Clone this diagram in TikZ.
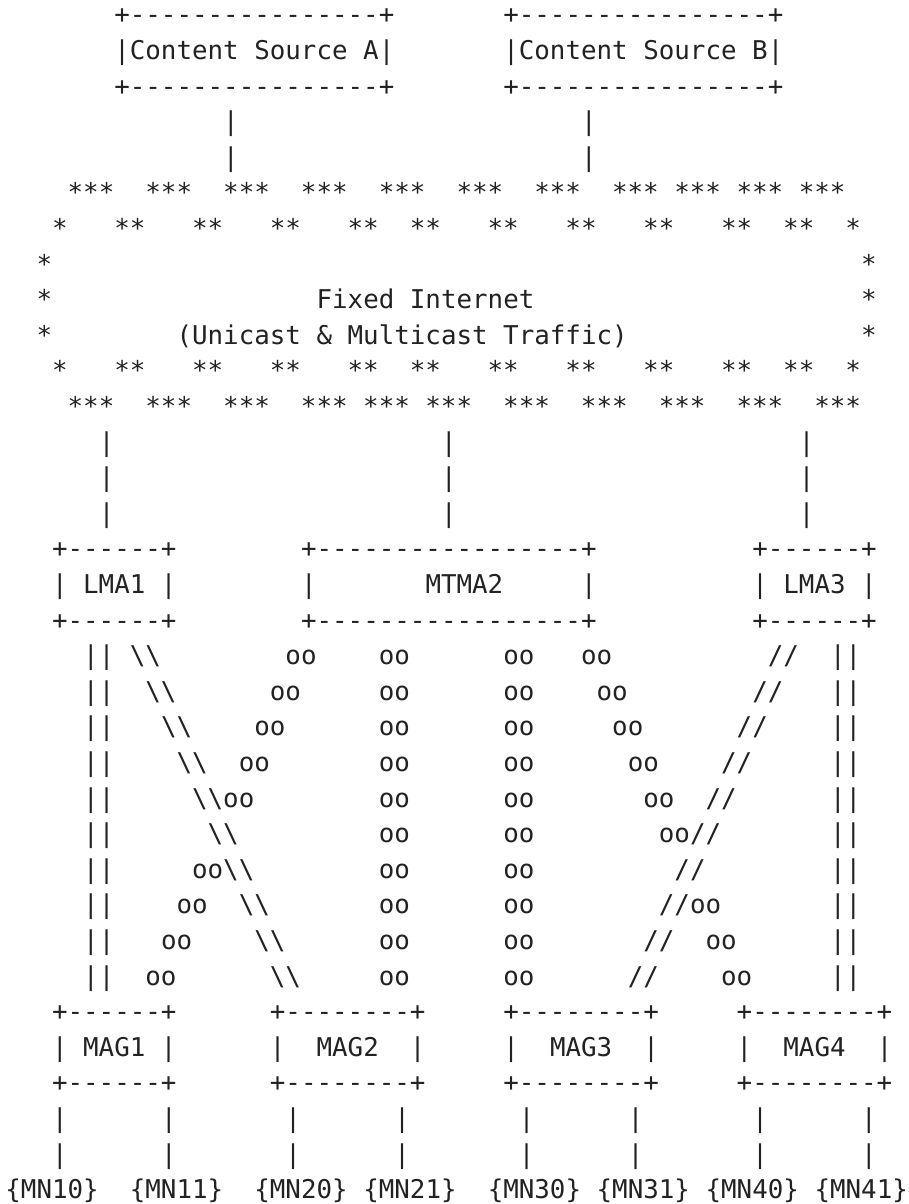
\documentclass[tikz,border=0pt]{standalone}
\usepackage{fontspec}
\newfontfamily\artfont{DejaVu Sans Mono}[Ligatures=TeXOff]
\definecolor{ink}{HTML}{222222}
\newcommand\bsl{\textbackslash}
% \asc{name}{row}{column}{text}
\newcommand\asc[4]{\node[art] (#1) at ({5.4+#3*15.56},{-(23.9+(#2-1)*35.6)}) {#4};}
\tikzset{art/.style={anchor=base west, inner sep=0pt, outer sep=0pt, text=ink,
  font=\artfont\fontsize{25.84}{35.6}\selectfont}}
\begin{document}
\begin{tikzpicture}[x=1pt,y=1pt]
\useasboundingbox (0,0) rectangle (908,-1204);
% Content sources
\asc{csAtop}{1}{7}{+----------------+}
\asc{csBtop}{1}{32}{+----------------+}
\asc{csA}{2}{7}{|Content Source A|}
\asc{csB}{2}{32}{|Content Source B|}
\asc{csAbot}{3}{7}{+----------------+}
\asc{csBbot}{3}{32}{+----------------+}
\foreach \r in {4,5}{
  \asc{la\r}{\r}{14}{|}
  \asc{lb\r}{\r}{37}{|}
}
% Fixed Internet cloud
\asc{cloudA}{6}{4}{***~~***~~***~~***~~***~~***~~***~~***~***~***~***}
\asc{cloudB}{7}{3}{*~~~**~~~**~~~**~~~**~~**~~~**~~~**~~~**~~~**~~**~~*}
\asc{cloudCl}{8}{2}{*}
\asc{cloudCr}{8}{55}{*}
\asc{cloudDl}{9}{2}{*}
\asc{inet}{9}{20}{Fixed Internet}
\asc{cloudDr}{9}{55}{*}
\asc{cloudEl}{10}{2}{*}
\asc{traffic}{10}{11}{(Unicast \& Multicast Traffic)}
\asc{cloudEr}{10}{55}{*}
\asc{cloudF}{11}{3}{*~~~**~~~**~~~**~~~**~~**~~~**~~~**~~~**~~~**~~**~~*}
\asc{cloudG}{12}{4}{***~~***~~***~~***~***~***~~***~~***~~***~~***~~***}
\foreach \r in {13,14,15}{
  \asc{lc\r}{\r}{6}{|}
  \asc{ld\r}{\r}{28}{|}
  \asc{le\r}{\r}{51}{|}
}
% LMA1, MTMA2, LMA3
\asc{lmaAtop}{16}{3}{+------+}
\asc{mtmaTop}{16}{19}{+-----------------+}
\asc{lmaCtop}{16}{48}{+------+}
\asc{lmaA}{17}{3}{| LMA1 |}
\asc{mtmaL}{17}{19}{|}
\asc{mtma}{17}{27}{MTMA2}
\asc{mtmaR}{17}{37}{|}
\asc{lmaC}{17}{48}{| LMA3 |}
\asc{lmaAbot}{18}{3}{+------+}
\asc{mtmaBot}{18}{19}{+-----------------+}
\asc{lmaCbot}{18}{48}{+------+}
% mesh of tunnels
\foreach \r in {19,...,28}{
  \pgfmathtruncatemacro\cb{\r-11}
  \pgfmathtruncatemacro\cs{68-\r}
  \pgfmathtruncatemacro\cl{37-\r}
  \pgfmathtruncatemacro\cr{\r+18}
  \asc{ll\r}{\r}{5}{||}
  \asc{bs\r}{\r}{\cb}{\bsl\bsl}
  \asc{ma\r}{\r}{24}{oo}
  \asc{mb\r}{\r}{32}{oo}
  \asc{sl\r}{\r}{\cs}{//}
  \asc{rr\r}{\r}{53}{||}
  \ifnum\r=24\else\asc{lo\r}{\r}{\cl}{oo}\fi
  \ifnum\r=25\else\asc{ro\r}{\r}{\cr}{oo}\fi
}
% MAGs
\asc{magAtop}{29}{3}{+------+}
\asc{magBtop}{29}{17}{+--------+}
\asc{magCtop}{29}{32}{+--------+}
\asc{magDtop}{29}{47}{+--------+}
\asc{magA}{30}{3}{| MAG1 |}
\asc{magBl}{30}{17}{|}
\asc{magB}{30}{20}{MAG2}
\asc{magBr}{30}{26}{|}
\asc{magCl}{30}{32}{|}
\asc{magC}{30}{35}{MAG3}
\asc{magCr}{30}{41}{|}
\asc{magDl}{30}{47}{|}
\asc{magD}{30}{50}{MAG4}
\asc{magDr}{30}{56}{|}
\asc{magAbot}{31}{3}{+------+}
\asc{magBbot}{31}{17}{+--------+}
\asc{magCbot}{31}{32}{+--------+}
\asc{magDbot}{31}{47}{+--------+}
\foreach \r in {32,33}{
  \foreach \c in {3,10,18,25,33,40,48,55}{
    \asc{p\r-\c}{\r}{\c}{|}
  }
}
% mobile nodes
\asc{mnA}{34}{0}{\{MN10\}}
\asc{mnB}{34}{8}{\{MN11\}}
\asc{mnC}{34}{16}{\{MN20\}}
\asc{mnD}{34}{23}{\{MN21\}}
\asc{mnE}{34}{31}{\{MN30\}}
\asc{mnF}{34}{38}{\{MN31\}}
\asc{mnG}{34}{45}{\{MN40\}}
\asc{mnH}{34}{52}{\{MN41\}}
\end{tikzpicture}
\end{document}
